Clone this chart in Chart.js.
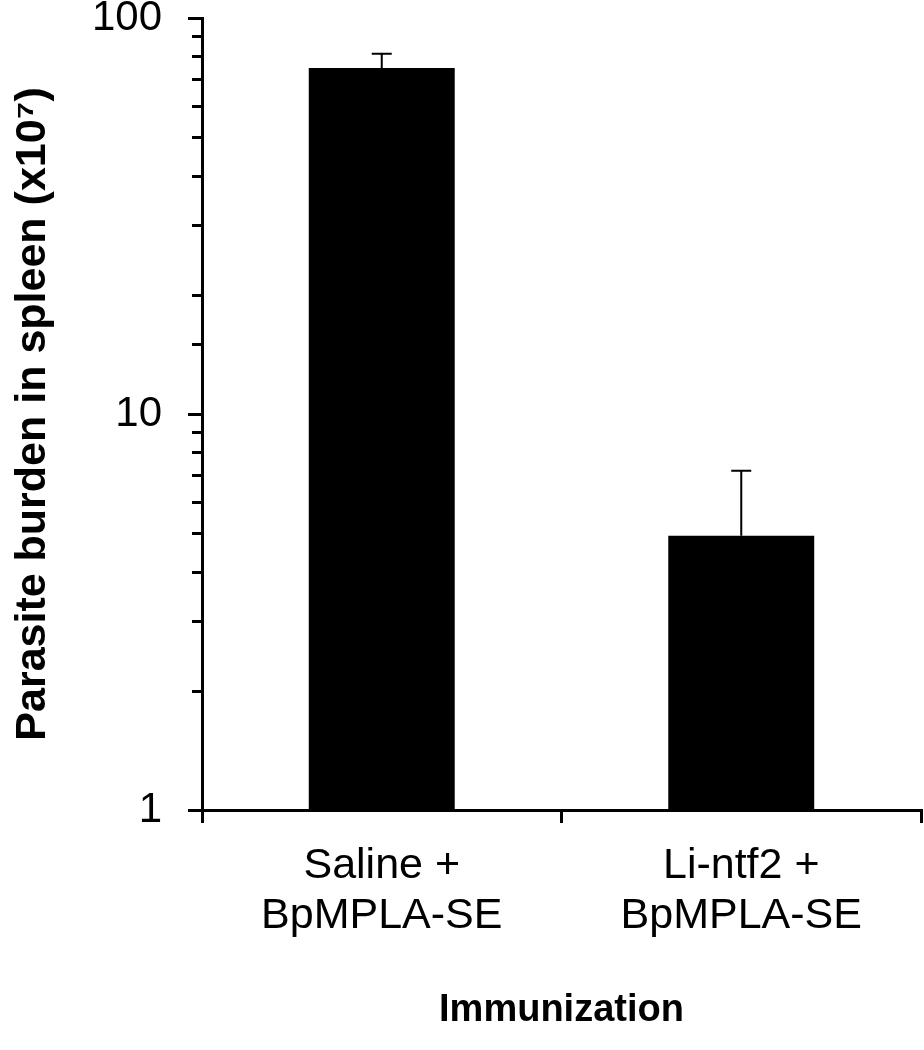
<!DOCTYPE html>
<html>
<head>
<meta charset="utf-8">
<script src="https://cdn.jsdelivr.net/npm/chart.js@4/dist/chart.umd.min.js"></script>
<style>
  html, body { margin: 0; padding: 0; background: #fff; }
  #wrap { width: 924px; height: 1050px; position: relative; }
</style>
</head>
<body>
<div id="wrap"><canvas id="spleenChart"></canvas></div>
<script>
// groups along x, one bar each
const groups = [['Saline +', 'BpMPLA-SE'], ['Li-ntf2 +', 'BpMPLA-SE']];
// parasite burden (x10^7)
const burden = [74.8, 4.93];
// upper error (added on top of the bar)
const burdenErr = [6.4, 2.26];
// labelled ticks on the log axis
const yLabels = [1, 10, 100];

const font = "'Liberation Sans', Arial, sans-serif";

// minor ticks on the y axis are shorter than the labelled ones
const minorTicks = {
  id: 'minorTicks',
  afterDraw(chart) {
    const y = chart.scales.y;
    const ctx = chart.ctx;
    ctx.save();
    ctx.strokeStyle = '#000';
    ctx.lineWidth = 3;
    y.ticks.forEach(t => {
      if (yLabels.includes(t.value)) return;
      const py = Math.round(y.getPixelForValue(t.value)) + 0.5;
      ctx.beginPath();
      ctx.moveTo(y.right - 10, py);
      ctx.lineTo(y.right, py);
      ctx.stroke();
    });
    ctx.restore();
  }
};

// error bars (upper only)
const errorBars = {
  id: 'errorBars',
  afterDatasetsDraw(chart) {
    const y = chart.scales.y;
    const ctx = chart.ctx;
    const meta = chart.getDatasetMeta(0);
    ctx.save();
    ctx.strokeStyle = '#000';
    ctx.lineWidth = 2;
    meta.data.forEach((bar, i) => {
      const top = y.getPixelForValue(burden[i] + burdenErr[i]);
      ctx.beginPath();
      ctx.moveTo(bar.x, bar.y);
      ctx.lineTo(bar.x, top);
      ctx.moveTo(bar.x - 10, top);
      ctx.lineTo(bar.x + 10, top);
      ctx.stroke();
    });
    ctx.restore();
  }
};

const ctx = document.getElementById('spleenChart').getContext('2d');
new Chart(ctx, {
  type: 'bar',
  data: {
    labels: groups,
    datasets: [{
      data: burden,
      backgroundColor: '#000',
      borderWidth: 0,
      categoryPercentage: 1,
      barPercentage: 0.406
    }]
  },
  options: {
    responsive: true,
    maintainAspectRatio: false,
    animation: false,
    layout: { padding: { top: 18, right: 3, left: 0, bottom: 0 } },
    plugins: {
      legend: { display: false },
      tooltip: { enabled: false }
    },
    scales: {
      x: {
        afterFit(scale) {
          scale.height = 240;
          scale.paddingLeft = 0;
          scale.paddingRight = 0;
        },
        border: { color: '#000', width: 3 },
        grid: {
          drawOnChartArea: false,
          color: '#000',
          lineWidth: 3,
          tickLength: 13,
          offset: true
        },
        ticks: {
          color: '#000',
          padding: 18,
          maxRotation: 0,
          font: { family: font, size: 43, lineHeight: 1.16 }
        },
        title: {
          display: true,
          text: 'Immunization',
          color: '#000',
          padding: { top: 0, bottom: 17 },
          font: { family: font, size: 38, weight: 'bold' }
        }
      },
      y: {
        type: 'logarithmic',
        min: 1,
        max: 100,
        afterFit(scale) {
          scale.width = 202;
          scale.paddingTop = 0;
          scale.paddingBottom = 0;
        },
        border: { color: '#000', width: 3 },
        grid: {
          drawOnChartArea: false,
          lineWidth: 3,
          tickLength: 14,
          color: c => (c.tick && yLabels.includes(c.tick.value)) ? '#000' : 'rgba(0,0,0,0)'
        },
        ticks: {
          autoSkip: false,
          color: '#000',
          padding: 26,
          font: { family: font, size: 42 },
          callback: v => yLabels.includes(v) ? String(v) : ''
        },
        title: {
          display: true,
          text: 'Parasite burden in spleen (x10\u2077)',
          color: '#000',
          padding: { top: 7, bottom: 0 },
          font: { family: font, size: 43, weight: 'bold' }
        }
      }
    }
  },
  plugins: [minorTicks, errorBars]
});
</script>
</body>
</html>
